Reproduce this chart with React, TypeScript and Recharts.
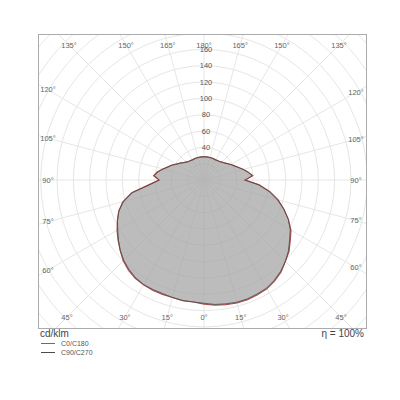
import { RadarChart, Radar, PolarGrid, PolarAngleAxis, PolarRadiusAxis, Legend } from "recharts";

/* ── Data ──────────────────────────────────────────────────────────────── */
// gamma angle of each measurement (0 = nadir, 180 = zenith, >180 = other half-plane)
const ANGLES = [
  0, 5, 10, 15, 20, 25, 30, 35, 40, 45, 50, 55, 60, 65, 70, 75, 80, 85,
  90, 95, 100, 105, 110, 115, 120, 125, 130, 135, 140, 145, 150, 155, 160, 165, 170, 175,
  180, 185, 190, 195, 200, 205, 210, 215, 220, 225, 230, 235, 240, 245, 250, 255, 260, 265,
  270, 275, 280, 285, 290, 295, 300, 305, 310, 315, 320, 325, 330, 335, 340, 345, 350, 355,
];

// cd/klm
const C0_C180 = [
  152, 150, 150, 149, 149, 149, 148, 147, 144, 140, 134, 128.5, 123, 117, 111, 103, 90, 68,
  55, 62, 58, 52, 47, 43.5, 39, 36, 33, 31, 29.5, 29, 28.5, 28.5, 28.5, 28.5, 28.5, 28.5,
  28.5, 28.5, 28.5, 28.5, 28.5, 28.5, 28.5, 29, 29.5, 31, 32.5, 35, 38, 41, 45, 50, 55, 60,
  50, 68, 82, 94, 104, 114, 123, 129, 136, 141, 147, 151, 154, 155, 156, 156, 155, 154,
];

const C90_C270 = [
  151, 150, 150, 149, 148, 148, 148, 146, 143, 139, 134, 128, 122, 117, 111, 102, 89, 67,
  55, 61, 57, 52, 47, 43, 39, 36, 33, 31, 29.5, 29, 28.5, 28.5, 28.5, 28.5, 28.5, 28.5,
  28.5, 28.5, 28.5, 28.5, 28.5, 28.5, 28.5, 29, 29.5, 31, 32.5, 35, 38, 41, 45, 50, 55, 59,
  51, 67, 81, 93, 104, 114, 122, 128, 135, 141, 146, 150, 153, 154, 155, 155, 154, 153,
];

const SERIES = ["C0/C180", "C90/C270"];
const SERIES_COLORS = ["#b0504c", "#4a4a4a"];
const RADIUS_LABELS = [40, 60, 80, 100, 120, 140, 160];
const UNIT_LABEL = "cd/klm";
const EFFICIENCY_LABEL = "η = 100%";

const data = ANGLES.map((angle, i) => ({
  angle,
  [SERIES[0]]: C0_C180[i],
  [SERIES[1]]: C90_C270[i],
}));

/* ── Layout ────────────────────────────────────────────────────────────── */
const W = 327;
const H = 293;
const CX = 165;
const CY = 145;
const R_MAX = 280;
const OUTER = 228.6;
const START = -90; // nadir at the bottom
const END = -450; // clockwise, full turn
// label box (inset from the frame)
const LBL_L = 9;
const LBL_R = 317;
const LBL_T = 10;
const LBL_B = 282;

const FONT = "Liberation Sans, Arial, sans-serif";

// spokes every 15°, in the chart's own angle convention
const SPOKES = ANGLES.filter((a) => a % 15 === 0).map((a) => START - a);

function AngleTick(props: any) {
  const { payload, x, y } = props;
  const g = Number(payload?.value);
  if (g % 15 !== 0) return null;
  const dx = x - CX;
  const dy = y - CY;
  const len = Math.hypot(dx, dy) || 1;
  const ux = dx / len;
  const uy = dy / len;
  const tx = ux > 1e-6 ? (LBL_R - CX) / ux : ux < -1e-6 ? (LBL_L - CX) / ux : Infinity;
  const ty = uy > 1e-6 ? (LBL_B - CY) / uy : uy < -1e-6 ? (LBL_T - CY) / uy : Infinity;
  const t = Math.min(tx, ty);
  const label = g <= 180 ? g : 360 - g;
  return (
    <text
      x={CX + ux * t}
      y={CY + uy * t}
      textAnchor="middle"
      dominantBaseline="central"
      fontSize={7.5}
      fill="#666"
      fontFamily={FONT}
    >
      {label}°
    </text>
  );
}

function RadiusTick(props: any) {
  const { payload, x, y } = props;
  const v = Number(payload?.value);
  if (!RADIUS_LABELS.includes(v)) return null;
  return (
    <text x={x + 2} y={y} textAnchor="middle" dominantBaseline="central" fontSize={7.5} fill="#555" fontFamily={FONT}>
      {v}
    </text>
  );
}

function LegendContent() {
  return (
    <div style={{ fontFamily: FONT, fontSize: 7, color: "#555" }}>
      {SERIES.map((name, i) => (
        <div key={name} style={{ display: "flex", alignItems: "center", height: 9 }}>
          <span style={{ width: 14, height: 0, borderTop: `1px solid ${SERIES_COLORS[i]}`, marginRight: 6 }} />
          <span>{name}</span>
        </div>
      ))}
    </div>
  );
}

export default function App() {
  return (
    <div style={{ position: "absolute", left: 0, top: 0, width: 400, height: 400, background: "#fff" }}>
      <div style={{ position: "absolute", left: 38, top: 34, width: W, height: H, border: "1px solid #ababab" }}>
        <RadarChart
          width={W}
          height={H}
          data={data}
          cx={CX}
          cy={CY}
          outerRadius={OUTER}
          startAngle={START}
          endAngle={END}
          margin={{ top: 0, right: 0, bottom: 0, left: 0 }}
        >
          <PolarGrid gridType="circle" polarAngles={SPOKES} stroke="#e6e6e6" strokeWidth={1} />
          <Radar
            name={SERIES[0]}
            dataKey={SERIES[0]}
            stroke={SERIES_COLORS[0]}
            strokeWidth={1.2}
            fill="#a6a6a6"
            fillOpacity={0.75}
            isAnimationActive={false}
          />
          <Radar
            name={SERIES[1]}
            dataKey={SERIES[1]}
            stroke={SERIES_COLORS[1]}
            strokeWidth={0.8}
            fill="none"
            fillOpacity={0}
            isAnimationActive={false}
          />
          <PolarAngleAxis dataKey="angle" tick={<AngleTick />} tickLine={false} axisLine={false} />
          <PolarRadiusAxis
            angle={90}
            domain={[0, R_MAX]}
            tickCount={15}
            tick={<RadiusTick />}
            axisLine={false}
            tickLine={false}
          />
          <Legend
            content={<LegendContent />}
            wrapperStyle={{ position: "absolute", left: 2, top: 304, width: "auto" }}
          />
        </RadarChart>
      </div>
      <div style={{ position: "absolute", left: 40, top: 328, fontFamily: FONT, fontSize: 10, color: "#444", lineHeight: "12px" }}>
        {UNIT_LABEL}
      </div>
      <div style={{ position: "absolute", right: 36, top: 328, fontFamily: FONT, fontSize: 10, color: "#444", lineHeight: "12px" }}>
        {EFFICIENCY_LABEL}
      </div>
    </div>
  );
}
